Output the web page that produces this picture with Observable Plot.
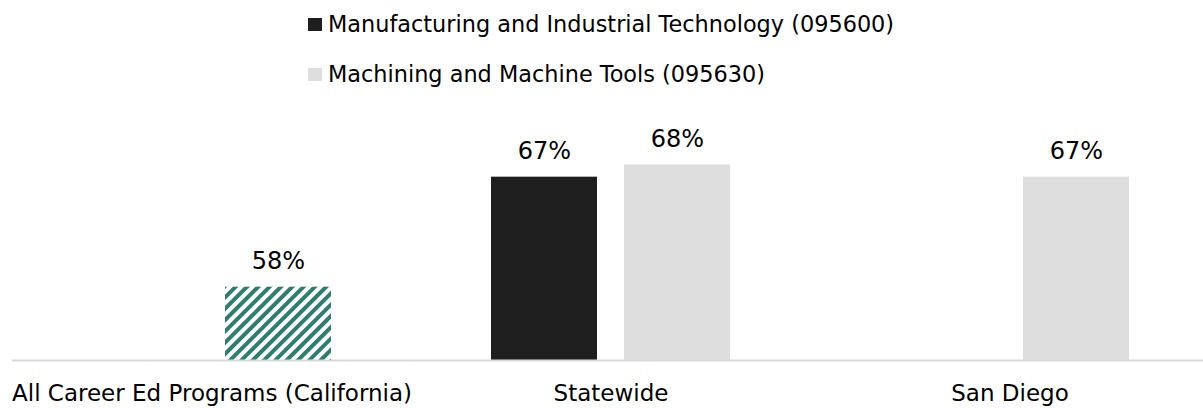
<!DOCTYPE html>
<html><head><meta charset="utf-8">
<script src="https://cdn.jsdelivr.net/npm/d3@7"></script>
<script src="https://cdn.jsdelivr.net/npm/@observablehq/plot@0.6"></script>
<style>
html,body{margin:0;padding:0;background:#fff;overflow:hidden;width:1203px;height:408px}
body{font-family:"DejaVu Sans",sans-serif;color:#000}
#legend{position:relative;height:100px}
.item{position:absolute;left:308px;height:28px;display:flex;align-items:center;font-size:22.4px;white-space:nowrap}
.swatch{width:14px;height:13px;margin-right:6px;flex:none}
#chart svg{display:block;max-width:none !important}
</style></head><body>
<div id="legend"></div><div id="chart"></div>
<script>
const categories = ["All Career Ed Programs (California)", "Statewide", "San Diego"];
const seriesNames = ["Manufacturing and Industrial Technology (095600)", "Machining and Machine Tools (095630)"];
const manufacturingValues = [null, 67, null];
const machiningValues = [58, 68, 67];
const benchmarkCategory = "All Career Ed Programs (California)";
const seriesColors = ["#1e1e1e", "#dedede"];
const hatchColor = "#2e7d6f";

// legend
const legend = document.getElementById("legend");
const legendTops = [10, 60];
seriesNames.forEach((s, i) => {
  const it = document.createElement("div");
  it.className = "item";
  it.style.top = legendTops[i] + "px";
  const sw = document.createElement("span");
  sw.className = "swatch";
  sw.style.background = seriesColors[i];
  it.appendChild(sw);
  it.appendChild(document.createTextNode(s));
  legend.appendChild(it);
});

const rows = [];
categories.forEach((c, i) => {
  if (manufacturingValues[i] != null) rows.push({category: c, series: seriesNames[0], value: manufacturingValues[i]});
  if (machiningValues[i] != null) rows.push({category: c, series: seriesNames[1], value: machiningValues[i]});
});
const plain = rows.filter(d => d.category !== benchmarkCategory);
const hatched = rows.filter(d => d.category === benchmarkCategory);
const yMin = 52;

const chart = Plot.plot({
  width: 1209, height: 308,
  marginLeft: 11, marginRight: 0, marginTop: 40, marginBottom: 48,
  style: {fontFamily: "'DejaVu Sans', sans-serif", fontSize: "23px", color: "#000", background: "#fff", overflow: "visible", maxWidth: "none"},
  fx: {domain: categories, padding: 0, label: null, axis: "bottom", tickSize: 0, tickPadding: 24, fontSize: 23},
  x: {domain: seriesNames, paddingInner: 0.2, paddingOuter: 0.6, axis: null},
  y: {domain: [yMin, 70], axis: null},
  color: {domain: seriesNames, range: seriesColors},
  marks: [
    Plot.barY(plain, {fx: "category", x: "series", y1: yMin, y2: "value", fill: "series"}),
    Plot.barY(hatched, {fx: "category", x: "series", y1: yMin, y2: "value", fill: "url(#hatch)"}),
    Plot.ruleY([yMin], {stroke: "#d9d9d9", strokeWidth: 2}),
    Plot.text(rows, {fx: "category", x: "series", y: "value", text: d => d.value + "%", lineAnchor: "bottom", dy: -18, fill: "#000", fontSize: 24})
  ]
});

const defs = d3.select(chart).insert("defs", ":first-child");
const pat = defs.append("pattern").attr("id", "hatch").attr("patternUnits", "userSpaceOnUse")
  .attr("width", 8).attr("height", 8).attr("patternTransform", "rotate(45)");
pat.append("rect").attr("width", 8).attr("height", 8).attr("fill", "#fff");
pat.append("rect").attr("width", 4).attr("height", 8).attr("fill", hatchColor);

document.getElementById("chart").appendChild(chart);
</script>
</body></html>
